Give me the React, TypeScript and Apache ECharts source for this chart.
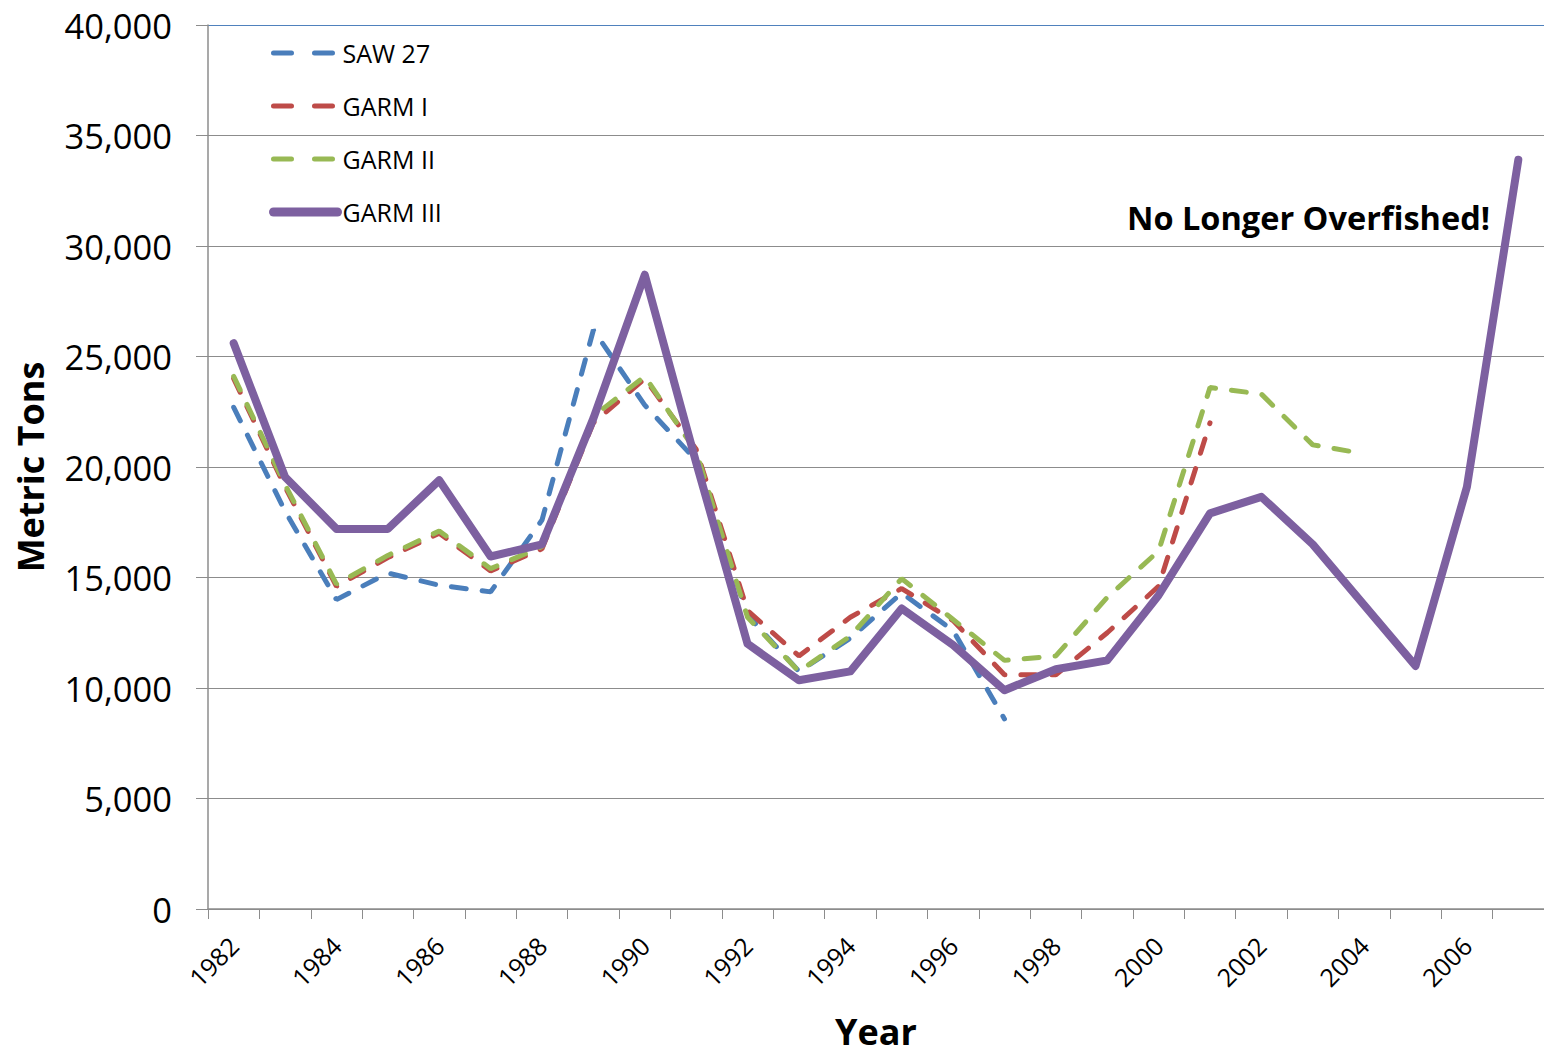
import React, { useEffect, useRef } from "react";
import * as echarts from "echarts";

const years = [
  "1982", "1983", "1984", "1985", "1986", "1987", "1988", "1989", "1990",
  "1991", "1992", "1993", "1994", "1995", "1996", "1997", "1998", "1999",
  "2000", "2001", "2002", "2003", "2004", "2005", "2006", "2007",
];

const saw27 = [
  22700, 18000, 14000, 15200, 14650, 14350, 17600, 26200, 22800, 20300,
  13300, 10750, 12250, 14300, 12600, 8600,
];

const garm1 = [
  24000, 19100, 14600, 15900, 17000, 15300, 16300, 22000, 24000, 20800,
  13500, 11450, 13200, 14500, 13050, 10600, 10600, 12500, 14600, 22000,
];

const garm2 = [
  24100, 19200, 14700, 16000, 17100, 15400, 16400, 22300, 24100, 20700,
  13200, 10750, 12350, 14950, 13100, 11250, 11450, 14100, 16200, 23600,
  23300, 21000, 20600,
];

const garm3 = [
  25600, 19550, 17200, 17200, 19400, 15950, 16500, 22200, 28700, 20200,
  12000, 10350, 10750, 13600, 11950, 9900, 10850, 11250, 14200, 17900,
  18650, 16500, 13750, 11000, 19100, 33900,
];

const yMin = 0;
const yMax = 40000;
const yStep = 5000;

const FONT = "'Open Sans', 'DejaVu Sans', sans-serif";

export default function App() {
  const ref = useRef<HTMLDivElement>(null);

  useEffect(() => {
    if (!ref.current) return;
    const chart = echarts.init(ref.current, null, { renderer: "svg" });
    const dash = { type: [15, 16] as any, width: 5, cap: "round" as any };
    const legendDash = { type: [18, 23] as any, width: 5, cap: "round" as any };
    chart.setOption({
      animation: false,
      backgroundColor: "#ffffff",
      textStyle: { fontFamily: FONT },
      grid: { left: 208, right: 0, top: 25, bottom: 143, containLabel: false },
      legend: {
        orient: "vertical",
        left: 264,
        top: 35,
        itemWidth: 64,
        itemHeight: 14,
        itemGap: 27,
        itemStyle: { opacity: 0 },
        textStyle: { fontSize: 25, color: "#000", fontFamily: FONT, lineHeight: 26 },
        data: [
          { name: "SAW 27", lineStyle: { ...legendDash, color: "#4a7ebb" }, itemStyle: { opacity: 0 } },
          { name: "GARM I", lineStyle: { ...legendDash, color: "#be4b48" }, itemStyle: { opacity: 0 } },
          { name: "GARM II", lineStyle: { ...legendDash, color: "#98b954" }, itemStyle: { opacity: 0 } },
          {
            name: "GARM III",
            lineStyle: { type: "solid", width: 9, cap: "round", color: "#7d60a0" },
            itemStyle: { opacity: 0 },
          },
        ],
      },
      xAxis: {
        type: "category",
        data: years,
        boundaryGap: true,
        name: "Year",
        nameLocation: "middle",
        nameGap: 104,
        nameTextStyle: { fontSize: 36, fontWeight: "bold", color: "#000", fontFamily: FONT },
        axisLine: { lineStyle: { color: "#8c8c8c", width: 1.5 } },
        axisTick: { show: true, interval: 0, length: 10, lineStyle: { color: "#8c8c8c" } },
        axisLabel: {
          interval: 1,
          rotate: 45,
          fontSize: 25,
          color: "#000",
          margin: 32,
          fontFamily: FONT,
        },
        splitLine: { show: false },
      },
      yAxis: {
        type: "value",
        min: yMin,
        max: yMax,
        interval: yStep,
        name: "Metric Tons",
        nameLocation: "middle",
        nameGap: 160,
        nameTextStyle: { fontSize: 36, fontWeight: "bold", color: "#000", fontFamily: FONT },
        axisLine: { show: true, lineStyle: { color: "#8c8c8c", width: 1.5 } },
        axisTick: { show: true, length: 12, lineStyle: { color: "#8c8c8c" } },
        axisLabel: {
          fontSize: 34.5,
          color: "#000",
          margin: 36,
          fontFamily: FONT,
          formatter: (v: number) => v.toLocaleString("en-US"),
        },
        splitLine: {
          show: true,
          lineStyle: {
            color: [
              "#8c8c8c", "#8c8c8c", "#8c8c8c", "#8c8c8c", "#8c8c8c",
              "#8c8c8c", "#8c8c8c", "#8c8c8c", "#4f81bd",
            ],
            width: 1.2,
          },
        },
      },
      series: [
        {
          name: "SAW 27",
          type: "line",
          data: saw27,
          symbol: "none",
          color: "#4a7ebb",
          lineStyle: { ...dash, color: "#4a7ebb" },
        },
        {
          name: "GARM I",
          type: "line",
          data: garm1,
          symbol: "none",
          color: "#be4b48",
          lineStyle: { ...dash, color: "#be4b48" },
        },
        {
          name: "GARM II",
          type: "line",
          data: garm2,
          symbol: "none",
          color: "#98b954",
          lineStyle: { ...dash, color: "#98b954" },
        },
        {
          name: "GARM III",
          type: "line",
          data: garm3,
          symbol: "none",
          color: "#7d60a0",
          lineStyle: { width: 8, color: "#7d60a0", cap: "round", join: "round" },
        },
      ],
      graphic: [
        {
          type: "text",
          right: 54,
          top: 201,
          style: {
            text: "No Longer Overfished!",
            fontSize: 32.5,
            fontWeight: "bold",
            fill: "#000",
            fontFamily: FONT,
          },
        },
      ],
    });
    return () => chart.dispose();
  }, []);

  return (
    <div
      ref={ref}
      style={{ position: "absolute", left: 0, top: 0, width: 1544, height: 1054 }}
    />
  );
}
